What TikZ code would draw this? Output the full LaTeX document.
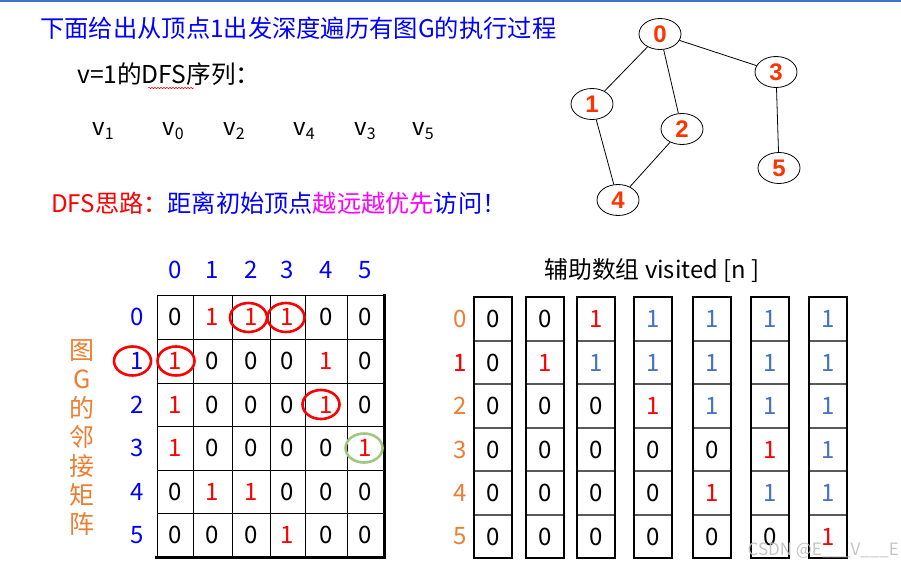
\documentclass[tikz,border=0pt]{standalone}
\usepackage{fontspec}
\setmainfont{Noto Sans CJK SC}
\newfontfamily\numfont{Liberation Sans}
\usetikzlibrary{
    shapes.geometric,
    positioning,
    decorations.pathmorphing
}
\definecolor{TitleBlue}{RGB}{0,0,255}
\definecolor{HintRed}{RGB}{255,0,0}
\definecolor{HintPink}{RGB}{255,0,255}
\definecolor{LabOrange}{RGB}{237,125,49}
\definecolor{VtxRed}{RGB}{255,51,0}
\definecolor{SoftBlue}{RGB}{68,114,196}
\definecolor{RingGreen}{RGB}{160,200,130}
\definecolor{TopBar}{RGB}{68,114,196}
\tikzset{
  vtx/.style    = {ellipse, draw, line width=0.8pt, minimum width=42pt,
                   minimum height=31pt, inner sep=0pt, text=VtxRed,
                   font=\numfont\bfseries\fontsize{24}{24}\selectfont},
  link/.style   = {line width=0.8pt},
  txt/.style    = {inner sep=0pt, font=\fontsize{24}{24}\selectfont},
  num/.style    = {inner sep=0pt, font=\fontsize{24}{24}\selectfont},
  hdr/.style    = {num, text=TitleBlue},
  m0/.style     = {num, text=black},
  m1/.style     = {num, text=HintRed},
  ring/.style   = {ellipse, draw=HintRed, line width=2.6pt, minimum width=37pt,
                   minimum height=29pt, inner sep=0pt},
  gring/.style  = {ring, draw=RingGreen},
  grid/.style   = {line width=0.9pt},
  inner/.style  = {black!65, line width=1.3pt},
  outer/.style  = {line width=2.6pt},
  v0/.style     = {num, text=black, node contents=0},
  v1/.style     = {num, text=HintRed, node contents=1},
  v2/.style     = {num, text=SoftBlue, node contents=1}
}
\newcommand{\vsub}[1]{v\raisebox{-0.35ex}{\fontsize{16}{16}\selectfont #1}}

\begin{document}
\begin{tikzpicture}[x=1pt, y=-1pt]
\useasboundingbox (0,0) rectangle (901,567);
\fill[TopBar] (0,0) rectangle (901,2.5);
% text on the left
\node[txt, anchor=west, text=TitleBlue, font=\fontsize{24.3}{24}\selectfont] (title) at (40,28.5) {下面给出从顶点1出发深度遍历有图G的执行过程};
\node[txt, anchor=west, font=\fontsize{24.6}{24}\selectfont] (seqlab) at (77,74) {v=1的DFS序列：};
\draw[HintRed, line width=0.5pt, decorate,
      decoration={snake, amplitude=0.7pt, segment length=3pt}] (148,88) -- (194,88);
\foreach \v/\x in {1/103, 0/173, 2/234, 4/304, 3/365, 5/423}
  \node[txt] (seq\v) at (\x,131) {\vsub{\v}};
\node[txt, anchor=west, font=\fontsize{24.2}{24}\selectfont] (hint) at (51,203) {{\color{HintRed}DFS思路：}{\color{TitleBlue}距离初始顶点}{\color{HintPink}越远越优先}{\color{TitleBlue}访问！}};
% graph G
\node[vtx] (n0) at (660,34) {0};
\node[vtx] (n3) at (776,72) {3};
\node[vtx] (n1) at (592,104) {1};
\node[vtx] (n2) at (682,129) {2};
\node[vtx] (n5) at (779,168) {5};
\node[vtx] (n4) at (618,200) {4};
\draw[link] (n0) -- (n1);
\draw[link] (n0) -- (n2);
\draw[link] (n0) -- (n3);
\draw[link] (n3) -- (n5);
\draw[link] (n1) -- (n4);
\draw[link] (n2) -- (n4);
% adjacency matrix
\node[txt, text=LabOrange, align=center, font=\fontsize{25}{29}\selectfont] (mlab) at (82,438) {图\\G\\的\\邻\\接\\矩\\阵};
\foreach \x in {157,193,232,270,305,347}
  \draw[grid] (\x,295) -- (\x,557);
\foreach \y in {295,339,383,426,470,513}
  \draw[grid] (157,\y) -- (383,\y);
\draw[line width=3pt] (155,557) -- (386,557);
\draw[line width=3pt] (384,294) -- (384,558.5);
\foreach \c in {0,...,5} {
  \pgfmathsetmacro{\cx}{{175,212.5,251,287.5,326,365}[\c]}
  \node[hdr] (h\c) at (\cx,270) {\c};
  \pgfmathsetmacro{\ry}{{317,361,404.5,448,491.5,535}[\c]}
  \node[hdr] (r\c) at (137,\ry) {\c};
}
\foreach \row [count=\r from 0] in {{0,1,1,1,0,0},{1,0,0,0,1,0},{1,0,0,0,1,0},
                                     {1,0,0,0,0,1},{0,1,1,0,0,0},{0,0,0,1,0,0}} {
  \foreach \v [count=\c from 0] in \row {
    \pgfmathsetmacro{\cx}{{175,212.5,251,287.5,326,365}[\c]}
    \pgfmathsetmacro{\ry}{{317,361,404.5,448,491.5,535}[\r]}
    \node[m\v] (m\r\c) at (\cx,\ry) {\v};
  }
}
\node[ring, xshift=-2.5pt, yshift=-0.5pt] at (m02) {};
\node[ring, xshift=-1.5pt, yshift=-0.5pt] at (m03) {};
\node[ring, xshift=-4.5pt] at (r1) {};
\node[ring, xshift=1pt] at (m10) {};
\node[ring, xshift=-5pt] at (m24) {};
\node[gring, xshift=-1pt] at (m35) {};
% visited arrays
\node[txt, font=\fontsize{23.8}{23}\selectfont] (vtitle) at (652,271) {辅助数组 visited [n ]};
\foreach \v [count=\i from 0] in {0,1,2,3,4,5} {
  \pgfmathsetmacro{\ry}{319+43.5*\i}
  \node[hdr, text=LabOrange] (q\i) at (460,\ry) {\v};
}
\node[hdr, text=HintRed] at (q1) {1};
\foreach \vals [count=\j from 0] in {{0,0,0,0,0,0},{0,1,0,0,0,0},{1,2,0,0,0,0},
                                     {2,2,1,0,0,0},{2,2,2,0,1,0},{2,2,2,1,2,0},
                                     {2,2,2,2,2,1}} {
  \pgfmathsetmacro{\vx}{{474,526,577,634,693,751,809}[\j]}
  \foreach \y in {341,384,428,471,515}
    \draw[inner] (\vx,\y) -- ++(38,0);
  \draw[outer] (\vx,297) rectangle ++(38,261);
  \foreach \v [count=\i from 0] in \vals {
    \pgfmathsetmacro{\ry}{319+43.5*\i}
    \node (a\j\i) at (\vx+19,\ry) [v\v];
  }
}
\node[anchor=east, inner sep=0pt, text=black!25, opacity=0.9,
      font=\fontsize{17}{17}\selectfont] (mark) at (899,551) {CSDN @E\_\_\_V\_\_\_E};
\end{tikzpicture}
\end{document}
